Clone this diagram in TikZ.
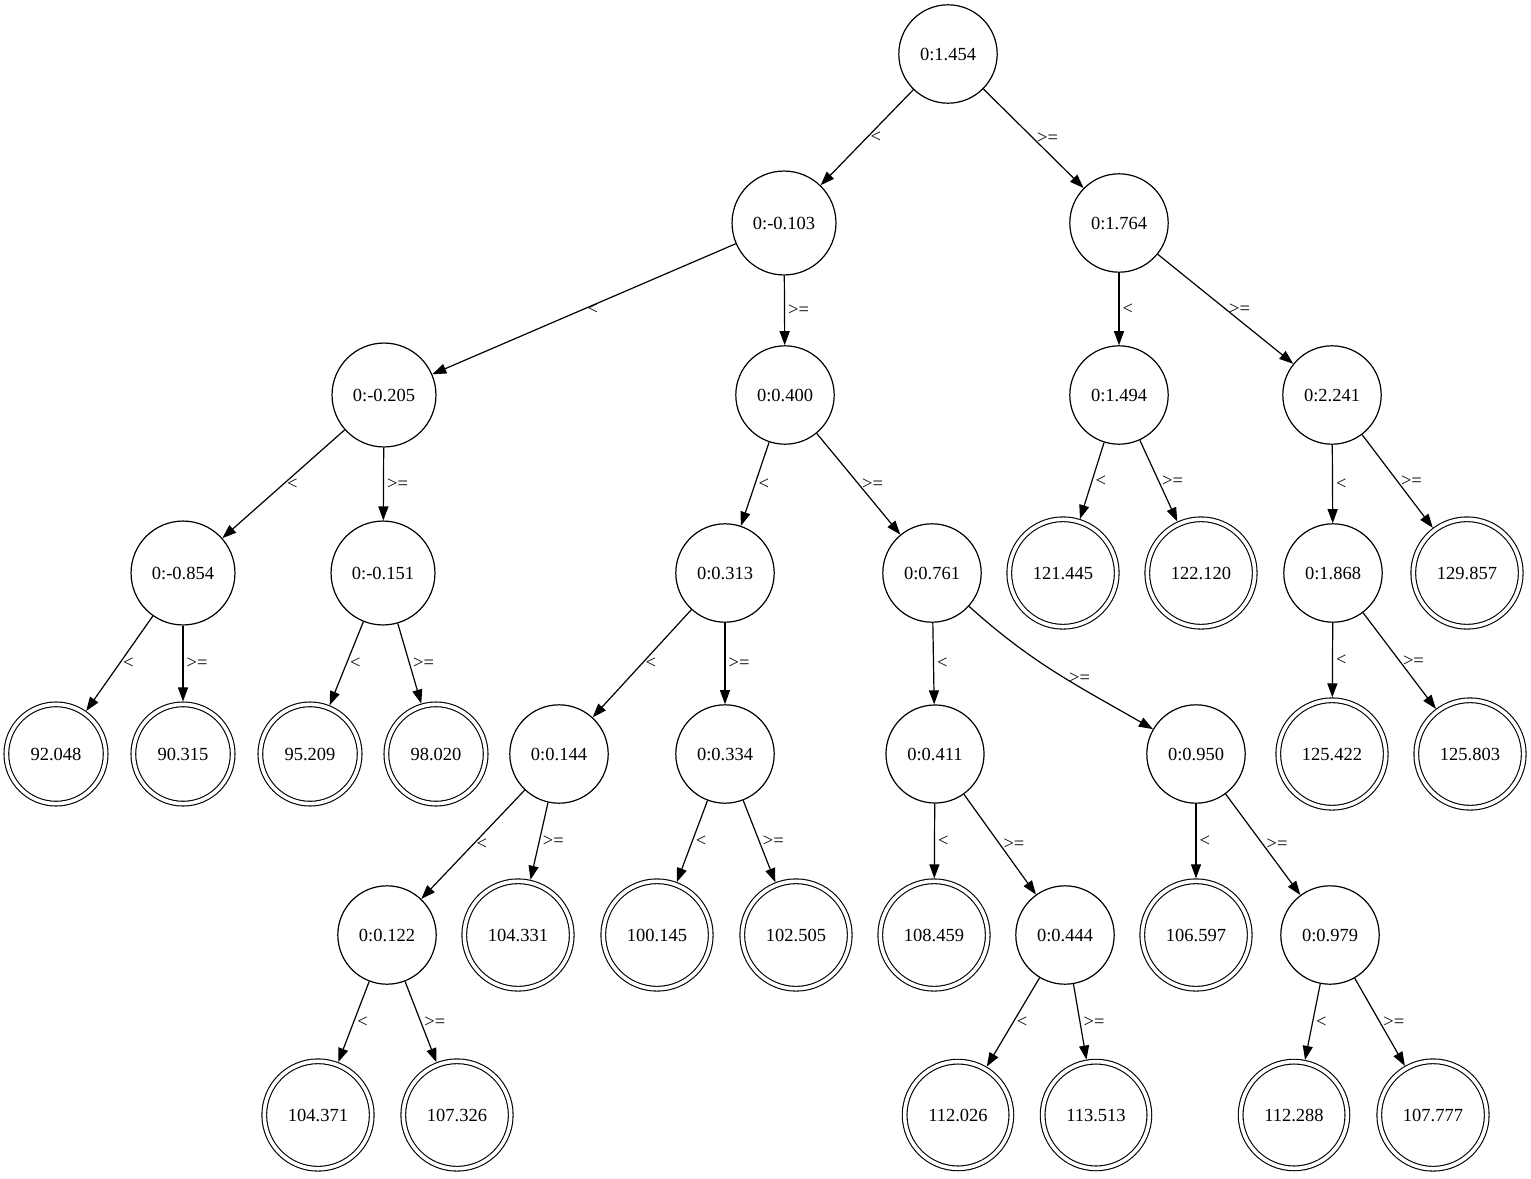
\documentclass[tikz,border=0pt]{standalone}
\usepackage{fontspec}
\setmainfont{Liberation Serif}
\usetikzlibrary{arrows.meta}

\begin{document}
\begin{tikzpicture}[x=1pt,y=1pt,
		split/.style={draw,circle,line width=1.2pt,inner sep=16pt,font=\fontsize{18.5}{22}\selectfont},
		leaf/.style={draw,circle,double,double distance=3.6pt,line width=1.1pt,inner sep=18pt,outer sep=2.9pt,font=\fontsize{18.5}{22}\selectfont},
		lbl/.style={right,inner sep=3pt,font=\fontsize{18.5}{22}\selectfont},
		arr/.style={line width=1.2pt,-{Triangle[length=14pt,width=10pt]}}]
		\useasboundingbox (0,0) rectangle (1531,-1178);
		
		% split nodes
		\node[split] (n0) at (948,-54) {0:1.454};
		\node[split] (n1) at (784,-223) {0:-0.103};
		\node[split] (n2) at (1119,-223) {0:1.764};
		\node[split] (n3) at (384,-395) {0:-0.205};
		\node[split] (n4) at (785,-395) {0:0.400};
		\node[split] (n5) at (1119,-395) {0:1.494};
		\node[split] (n6) at (1332,-395) {0:2.241};
		\node[split] (n7) at (183,-573) {0:-0.854};
		\node[split] (n8) at (383,-573) {0:-0.151};
		\node[split] (n9) at (725,-573) {0:0.313};
		\node[split] (n10) at (932,-573) {0:0.761};
		\node[split] (n11) at (1333,-573) {0:1.868};
		\node[split] (n12) at (559,-754) {0:0.144};
		\node[split] (n13) at (725,-754) {0:0.334};
		\node[split] (n14) at (935,-754) {0:0.411};
		\node[split] (n15) at (1196,-754) {0:0.950};
		\node[split] (n16) at (387,-935) {0:0.122};
		\node[split] (n17) at (1065,-935) {0:0.444};
		\node[split] (n18) at (1330,-935) {0:0.979};
		
		% leaves
		\node[leaf] (v121445) at (1063,-573) {121.445};
		\node[leaf] (v122120) at (1201,-573) {122.120};
		\node[leaf] (v129857) at (1467,-573) {129.857};
		\node[leaf] (v92048) at (56,-754) {92.048};
		\node[leaf] (v90315) at (183,-754) {90.315};
		\node[leaf] (v95209) at (310,-754) {95.209};
		\node[leaf] (v98020) at (436,-754) {98.020};
		\node[leaf] (v125422) at (1332,-754) {125.422};
		\node[leaf] (v125803) at (1470,-754) {125.803};
		\node[leaf] (v104331) at (518,-935) {104.331};
		\node[leaf] (v100145) at (657,-935) {100.145};
		\node[leaf] (v102505) at (796,-935) {102.505};
		\node[leaf] (v108459) at (934,-935) {108.459};
		\node[leaf] (v106597) at (1196,-935) {106.597};
		\node[leaf] (v104371) at (318,-1115) {104.371};
		\node[leaf] (v107326) at (457,-1115) {107.326};
		\node[leaf] (v112026) at (958,-1115) {112.026};
		\node[leaf] (v113513) at (1096,-1115) {113.513};
		\node[leaf] (v112288) at (1294,-1115) {112.288};
		\node[leaf] (v107777) at (1433,-1115) {107.777};
		
		% branches
		\foreach \a/\b in {n0/n1,n1/n3,n2/n5,n3/n7,n4/n9,n5/v121445,n6/n11,n7/v92048,n8/v95209,n9/n12,n10/n14,n11/v125422,n12/n16,n13/v100145,n14/v108459,n15/v106597,n16/v104371,n17/v112026,n18/v112288}
			\draw[arr] (\a) -- node[lbl] {<} (\b);
		\foreach \a/\b in {n0/n2,n1/n4,n2/n6,n3/n8,n4/n10,n5/v122120,n6/v129857,n7/v90315,n8/v98020,n9/n13,n11/v125803,n12/v104331,n13/v102505,n14/n17,n15/n18,n16/v107326,n17/v113513,n18/v107777}
			\draw[arr] (\a) -- node[lbl] {>=} (\b);
		\draw[arr] (n10) to[out=-42,in=150] node[lbl,pos=.55] {>=} (n15);
		
	\end{tikzpicture}
\end{document}
